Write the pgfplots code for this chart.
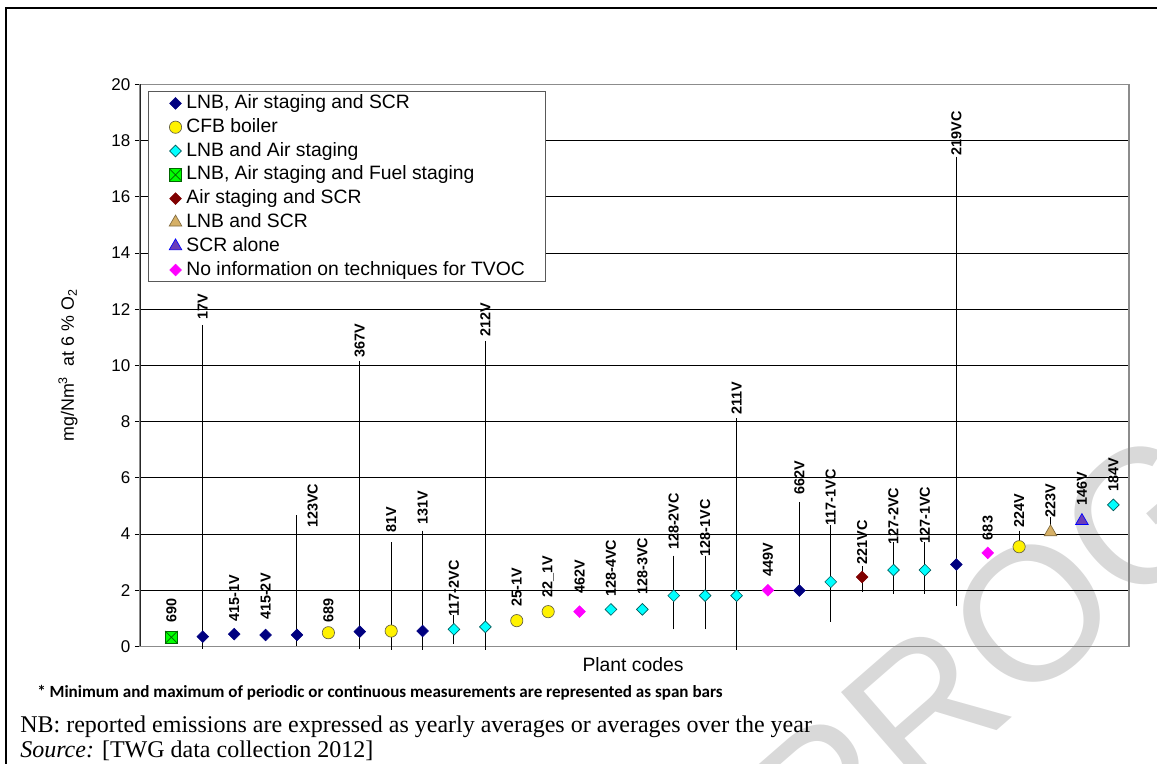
\documentclass[border=0pt]{standalone}
\usepackage{fontspec}
\setmainfont{Liberation Serif}
\newfontfamily\arial{Liberation Sans}
\newfontfamily\calibri{Carlito}
\usepackage{pgfplots}
\pgfplotsset{compat=1.18}
\usepackage{pgfplotstable}

\definecolor{navyc}{HTML}{000080}
\definecolor{cyanc}{HTML}{00FFFF}
\definecolor{greenc}{HTML}{00FF00}
\definecolor{darkredc}{HTML}{800000}
\definecolor{tanc}{HTML}{D6B066}
\definecolor{purplec}{HTML}{6A3DB8}
\definecolor{magc}{HTML}{FF00FF}

\pgfdeclareplotmark{dia}{%
  \pgfpathmoveto{\pgfqpoint{0pt}{\pgfplotmarksize}}%
  \pgfpathlineto{\pgfqpoint{\pgfplotmarksize}{0pt}}%
  \pgfpathlineto{\pgfqpoint{0pt}{-\pgfplotmarksize}}%
  \pgfpathlineto{\pgfqpoint{-\pgfplotmarksize}{0pt}}%
  \pgfpathclose
  \pgfusepathqfillstroke}
\pgfdeclareplotmark{boxx}{%
  \pgfpathrectangle{\pgfqpoint{-\pgfplotmarksize}{-\pgfplotmarksize}}{\pgfqpoint{2\pgfplotmarksize}{2\pgfplotmarksize}}%
  \pgfusepathqfillstroke
  \pgfpathmoveto{\pgfqpoint{-\pgfplotmarksize}{-\pgfplotmarksize}}%
  \pgfpathlineto{\pgfqpoint{\pgfplotmarksize}{\pgfplotmarksize}}%
  \pgfpathmoveto{\pgfqpoint{-\pgfplotmarksize}{\pgfplotmarksize}}%
  \pgfpathlineto{\pgfqpoint{\pgfplotmarksize}{-\pgfplotmarksize}}%
  \pgfusepathqstroke}

\pgfplotstableread{
x y
2 0.35
3 0.44
4 0.41
5 0.41
7 0.53
9 0.55
21 1.99
26 2.92
}\navydata
\pgfplotstableread{
x y
6 0.49
8 0.55
12 0.92
13 1.24
28 3.55
}\cfbdata
\pgfplotstableread{
x y
10 0.61
11 0.70
15 1.32
16 1.32
17 1.81
18 1.81
19 1.81
22 2.30
24 2.72
25 2.72
31 5.04
}\cyandata
\pgfplotstableread{
x y
1 0.33
}\greendata
\pgfplotstableread{
x y
23 2.47
}\reddata
\pgfplotstableread{
x y
29 4.07
}\tandata
\pgfplotstableread{
x y
30 4.47
}\purpdata
\pgfplotstableread{
x y
14 1.24
20 2.00
27 3.33
}\magdata
\pgfplotstableread{
x y ep em
2 0.35 10.97 0.30
5 0.41 4.13 0.27
7 0.53 9.51 0.50
8 0.55 3.04 0.55
9 0.55 3.45 0.55
10 0.61 0.39 0.38
11 0.70 10.05 0.70
17 1.81 1.30 1.08
18 1.81 1.30 1.08
19 1.81 6.19 1.81
21 1.99 3.03 0
22 2.30 1.89 1.29
23 2.47 0.27 0.40
24 2.72 0.87 0.72
25 2.72 0.87 0.72
26 2.92 14.39 1.36
28 3.55 0.45 0
29 4.07 0.40 0
}\errdata
\pgfplotstableread{
lx ly lab
1 0.84 690
2 11.62 17V
3 0.88 415-1V
4 0.94 415-2V
5.5 4.22 123VC
6 0.83 689
7 10.26 367V
8 4.03 81V
9 4.32 131V
10 1.06 117-2VC
11 11.02 212V
12 1.42 25-1V
13 1.72 22\_1V
14 1.89 462V
15 1.77 128-4VC
16 1.83 128-3VC
17 3.43 128-2VC
18 3.20 128-1VC
19 8.24 211V
20 2.48 449V
21 5.41 662V
22 4.30 117-1VC
23 2.91 221VC
24 3.62 127-2VC
25 3.65 127-1VC
26 17.48 219VC
27 3.78 683
28 4.21 224V
29 4.57 223V
30 5.00 146V
31 5.52 184V
}\labdata

\begin{document}
\begin{tikzpicture}
\useasboundingbox (0,0) rectangle (867.75pt,573pt);
\begin{scope}
\clip (0,0) rectangle (867.75pt,573pt);
\node[anchor=base west, rotate=41, inner sep=0pt, text=black!15,
  font=\arial\fontsize{142.5}{150}\selectfont] at (615pt,-90.75pt) {PROGRESS};
\end{scope}
\begin{axis}[
  at={(105pt,88.125pt)}, anchor=south west,
  scale only axis, width=741.75pt, height=421.5pt,
  xmin=0, xmax=31.5, ymin=0, ymax=20,
  xtick=\empty, ytick={0,2,...,20},
  ymajorgrids, grid style={black, line width=0.75pt},
  axis line style={black!45, line width=0.9pt},
  tick align=outside, ytick pos=left, major tick length=3.75pt,
  ytick style={black, line width=0.75pt},
  /pgf/number format/assume math mode=true,
  yticklabel style={font=\arial\fontsize{12.75}{14}\selectfont},
  ylabel={mg/Nm\textsuperscript{3}\ \ at 6 \% O\textsubscript{2}},
  ylabel style={at={(axis description cs:-0.0728,0.5)}, anchor=center, font=\arial\fontsize{13.4}{15}\selectfont},
  xlabel={Plant codes},
  xlabel style={at={(axis description cs:0.4985,-0.0329)}, anchor=center, font=\arial\fontsize{14.5}{16}\selectfont},
  clip=false,
  legend image code/.code={\draw[#1] plot coordinates {(0pt,0pt)};},
  legend cell align=left,
  legend style={at={(axis description cs:0.0081,0.9884)}, anchor=north west,
    draw=black!65, line width=0.75pt, fill=white,
    font=\arial\fontsize{14.5}{17}\selectfont,
    inner xsep=15.5pt, inner ysep=0pt, row sep=0pt,
    nodes={inner xsep=0pt, inner ysep=1.675pt, text height=11pt, text depth=3.5pt},
    /tikz/every odd column/.append style={column sep=3.4pt}},
]
\addplot[only marks, mark=none, forget plot,
  error bars/.cd, y dir=both, y explicit, error mark=-,
  error bar style={black, line width=0.75pt},
  error mark options={black, mark size=2.6pt, line width=0.75pt}]
  table[x=x, y=y, y error plus=ep, y error minus=em] {\errdata};

\addplot[only marks, mark=dia, mark size=4.4pt, line width=0.4pt, mark options={draw=navyc, fill=navyc}] table[x=x,y=y] {\navydata};
\addlegendentry{LNB, Air staging and SCR}
\addplot[only marks, mark=*, mark size=4.6pt, line width=0.5pt, mark options={draw=black!70!yellow, fill=yellow}] table[x=x,y=y] {\cfbdata};
\addlegendentry{CFB boiler}
\addplot[only marks, mark=dia, mark size=4.4pt, line width=0.5pt, mark options={draw=teal!70!black, fill=cyanc}] table[x=x,y=y] {\cyandata};
\addlegendentry{LNB and Air staging}
\addplot[only marks, mark=boxx, mark size=4.7pt, line width=0.5pt, mark options={draw=green!40!black, fill=greenc}] table[x=x,y=y] {\greendata};
\addlegendentry{LNB, Air staging and Fuel staging}
\addplot[only marks, mark=dia, mark size=4.4pt, line width=0.4pt, mark options={draw=darkredc, fill=darkredc}] table[x=x,y=y] {\reddata};
\addlegendentry{Air staging and SCR}
\addplot[only marks, mark=triangle*, mark size=5.5pt, line width=0.5pt, mark options={draw=tanc!60!black, fill=tanc}] table[x=x,y=y] {\tandata};
\addlegendentry{LNB and SCR}
\addplot[only marks, mark=triangle*, mark size=5.5pt, line width=0.5pt, mark options={draw=blue, fill=purplec}] table[x=x,y=y] {\purpdata};
\addlegendentry{SCR alone}
\addplot[only marks, mark=dia, mark size=4.4pt, line width=0.4pt, mark options={draw=magc, fill=magc}] table[x=x,y=y] {\magdata};
\addlegendentry{No information on techniques for TVOC}

\addplot[only marks, mark=none, forget plot, nodes near coords, point meta=explicit symbolic,
  nodes near coords style={rotate=90, anchor=west, inner sep=0pt, text=black,
  font=\arial\bfseries\fontsize{10.8}{12}\selectfont}]
  table[x=lx, y=ly, meta=lab] {\labdata};
\draw[black!85, line width=0.75pt] (rel axis cs:0,0) -- (rel axis cs:0,1);
\end{axis}
\begin{scope}[x=0.75pt, y=-0.75pt, yshift=573pt]
\draw[black, line width=1.5pt] (6,764) -- (6,8.5) -- (1157,8.5);
\node[anchor=base west, inner sep=0pt, font=\calibri\bfseries\fontsize{12.8}{14}\selectfont] at (37,697.5)
  {* Minimum and maximum of periodic or continuous measurements are represented as span bars};
\node[anchor=base west, inner sep=0pt, font=\fontsize{18}{20}\selectfont] at (20,733)
  {NB: reported emissions are expressed as yearly averages or averages over the year};
\node[anchor=base west, inner sep=0pt, font=\fontsize{18}{20}\selectfont] at (20,757.5)
  {\textit{Source:} [TWG data collection 2012]};
\end{scope}
\end{tikzpicture}
\end{document}
